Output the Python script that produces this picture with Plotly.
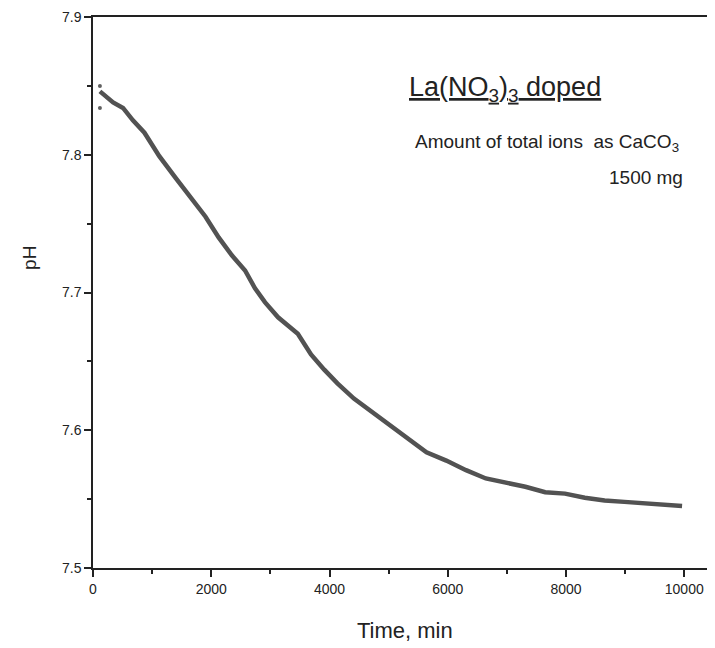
import plotly.graph_objects as go

# Data
time_min = [117, 340, 508, 675, 870, 1121, 1400, 1679, 1903, 2125, 2348, 2572,
            2740, 2907, 3130, 3464, 3687, 3911, 4134, 4413, 4691, 4970, 5305,
            5640, 5975, 6309, 6644, 6979, 7313, 7648, 7983, 8318, 8653, 8987,
            9322, 9657, 9963]
ph = [7.846, 7.838, 7.834, 7.825, 7.816, 7.799, 7.783, 7.768, 7.755, 7.740,
      7.727, 7.716, 7.703, 7.693, 7.682, 7.670, 7.655, 7.644, 7.634, 7.623,
      7.614, 7.605, 7.595, 7.584, 7.578, 7.571, 7.565, 7.562, 7.559, 7.555,
      7.554, 7.551, 7.549, 7.548, 7.547, 7.546, 7.545]

outlier_time = [117, 117]
outlier_ph = [7.850, 7.834]

x_ticks = [0, 2000, 4000, 6000, 8000, 10000]
x_labels = ["0", "2000", "4000", "6000", "8000", "10000"]
y_ticks = [7.5, 7.6, 7.7, 7.8, 7.9]
y_labels = ["7.5", "7.6", "7.7", "7.8", "7.9"]

FONT = "Arial, 'Liberation Sans', Helvetica, sans-serif"

fig = go.Figure()
fig.add_trace(go.Scatter(x=time_min, y=ph, mode="lines",
                         line=dict(color="#525252", width=4.5, shape="linear"),
                         showlegend=False))
fig.add_trace(go.Scatter(x=outlier_time, y=outlier_ph, mode="markers",
                         marker=dict(color="#606060", size=4),
                         showlegend=False))

fig.update_layout(
    width=707, height=640,
    margin=dict(l=85, r=0, t=9, b=80),
    paper_bgcolor="white", plot_bgcolor="white",
    font=dict(family=FONT, color="#222222"),
    xaxis=dict(range=[0, 10520], tickvals=x_ticks, ticktext=x_labels,
               ticks="outside", ticklen=7,
               tickwidth=1.5, tickcolor="#222", showline=True, linecolor="#222",
               linewidth=1.5, mirror=True, showgrid=False, zeroline=False,
               tickfont=dict(size=14, family=FONT, color="#222"),
               minor=dict(dtick=1000, ticks="outside", ticklen=4, tickcolor="#222")),
    yaxis=dict(range=[7.5, 7.9], tickvals=y_ticks, ticktext=y_labels,
               ticks="outside", ticklen=7, tickwidth=1.5, tickcolor="#222",
               showline=True, linecolor="#222", linewidth=1.5, mirror=False,
               showgrid=False, zeroline=False,
               tickfont=dict(size=14, family=FONT, color="#222"),
               minor=dict(dtick=0.05, ticks="outside", ticklen=4, tickcolor="#222")),
)

annotations = [
    dict(text="pH", x=-0.103, y=0.5626, xref="paper", yref="paper", textangle=-90,
         xanchor="center", yanchor="middle",
         showarrow=False, font=dict(size=19, family=FONT, color="#222")),
    dict(text="Time, min", x=0.5016, y=-0.1143, xref="paper", yref="paper",
         xanchor="center", yanchor="middle",
         showarrow=False, font=dict(size=22, family=FONT, color="#222")),
    dict(text="<u>La(NO<sub>3</sub>)<sub>3</sub> doped</u>", x=0.5048, y=0.8693,
         xref="paper", yref="paper", xanchor="left", yanchor="middle",
         showarrow=False, font=dict(size=27, family=FONT, color="#222")),
    dict(text="Amount of total ions  as CaCO<sub>3</sub>", x=0.5145, y=0.7713,
         xref="paper", yref="paper", xanchor="left", yanchor="middle",
         showarrow=False, font=dict(size=19, family=FONT, color="#222")),
    dict(text="1500 mg", x=0.9518, y=0.7096, xref="paper", yref="paper",
         xanchor="right", yanchor="middle",
         showarrow=False, font=dict(size=19, family=FONT, color="#222")),
]
fig.update_layout(annotations=annotations)

fig.write_html("out.html")
